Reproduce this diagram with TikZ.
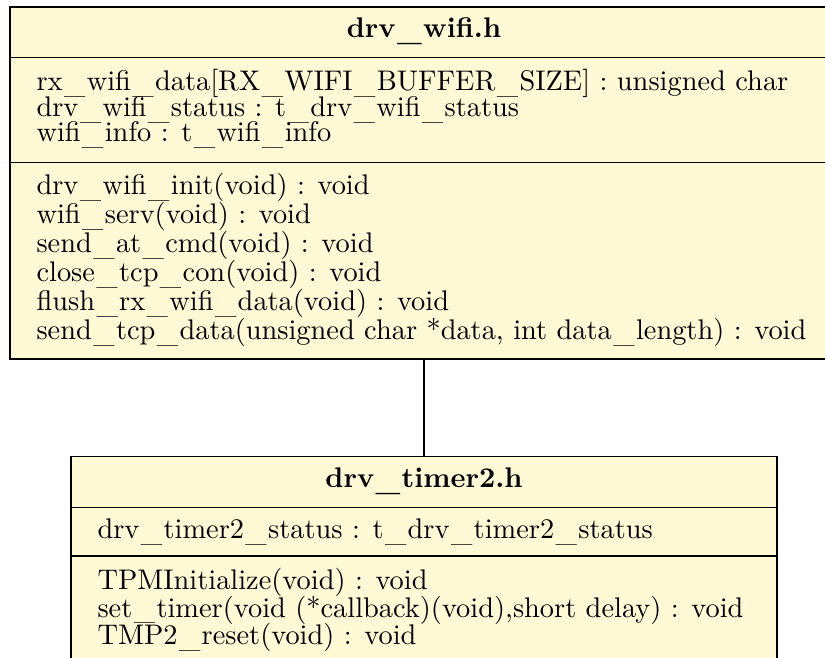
\documentclass[tikz,border=0pt]{standalone}
\definecolor{classfill}{RGB}{255,249,214}
\newlength\umlrefwidth
\newlength\umlunit
% one drawing unit, chosen so that "TPMInitialize(void) : void" at 10pt is 330 units wide
\AtBeginDocument{%
  \settowidth{\umlrefwidth}{\fontsize{10pt}{12pt}\selectfont TPMInitialize(void) : void}%
  \global\umlunit=\dimexpr\umlrefwidth/330\relax}
\newcommand\umlfont{\fontsize{10pt}{10pt}\selectfont}
% underscore in identifiers: set a little apart and slightly lowered
\newcommand\us{\kern.05em\raisebox{-.1em}{\_}\kern.05em}
\tikzset{
  classbox/.style={draw=black, line width=1.1\umlunit, fill=classfill, inner sep=0pt, outer sep=0pt},
  divider/.style={draw=black, line width=1.1\umlunit},
  member/.style={anchor=base west, inner sep=0pt, font=\umlfont},
  classname/.style={anchor=base, inner sep=0pt, font=\umlfont\bfseries},
  link/.style={draw=black, line width=1.2\umlunit},
}
\begin{document}
\begin{tikzpicture}[x=\umlunit,y=-\umlunit]
\useasboundingbox (0,0) rectangle (825,658);

% class drv_wifi.h
\node[classbox, minimum width=828\umlunit, minimum height=352\umlunit] (wifi) at (424,183) {};
\draw[divider] (10,57.7) -- (838,57.7);
\draw[divider] (10,162.3) -- (838,162.3);
\node[classname] (wifiname) at (424,38) {drv\us wifi.h};
\node[member] (wa1) at (36,91) {rx\us wifi\us data[RX\us WIFI\us BUFFER\us SIZE] : unsigned char};
\node[member] (wa2) at (36,116.5) {drv\us wifi\us status : t\us drv\us wifi\us status};
\node[member] (wa3) at (36,142) {wifi\us info : t\us wifi\us info};
\foreach \txt [count=\i] in {
  {drv\us wifi\us init(void) : void},
  {wifi\us serv(void) : void},
  {send\us at\us cmd(void) : void},
  {close\us tcp\us con(void) : void},
  {flush\us rx\us wifi\us data(void) : void},
  {send\us tcp\us data(unsigned char *data, int data\us length) : void}}
  \node[member] (wo\i) at (36,{194.5+29*(\i-1)}) {\txt};

% class drv_timer2.h
\node[classbox, minimum width=706\umlunit, minimum height=207.3\umlunit] (timer) at (424,560.35) {};
\draw[divider] (71,507.3) -- (777,507.3);
\draw[divider] (71,556) -- (777,556);
\node[classname] (timername) at (424,488) {drv\us timer2.h};
\node[member] (ta1) at (97,538.3) {drv\us timer2\us status : t\us drv\us timer2\us status};
\foreach \txt [count=\i] in {
  {TPMInitialize(void) : void},
  {set\us timer(void (*callback)(void),short delay) : void},
  {TMP2\us reset(void) : void}}
  \node[member] (to\i) at (97,{589.3+27.8*(\i-1)}) {\txt};

% association
\draw[link] (wifi.south) -- (timer.north);
\end{tikzpicture}
\end{document}
